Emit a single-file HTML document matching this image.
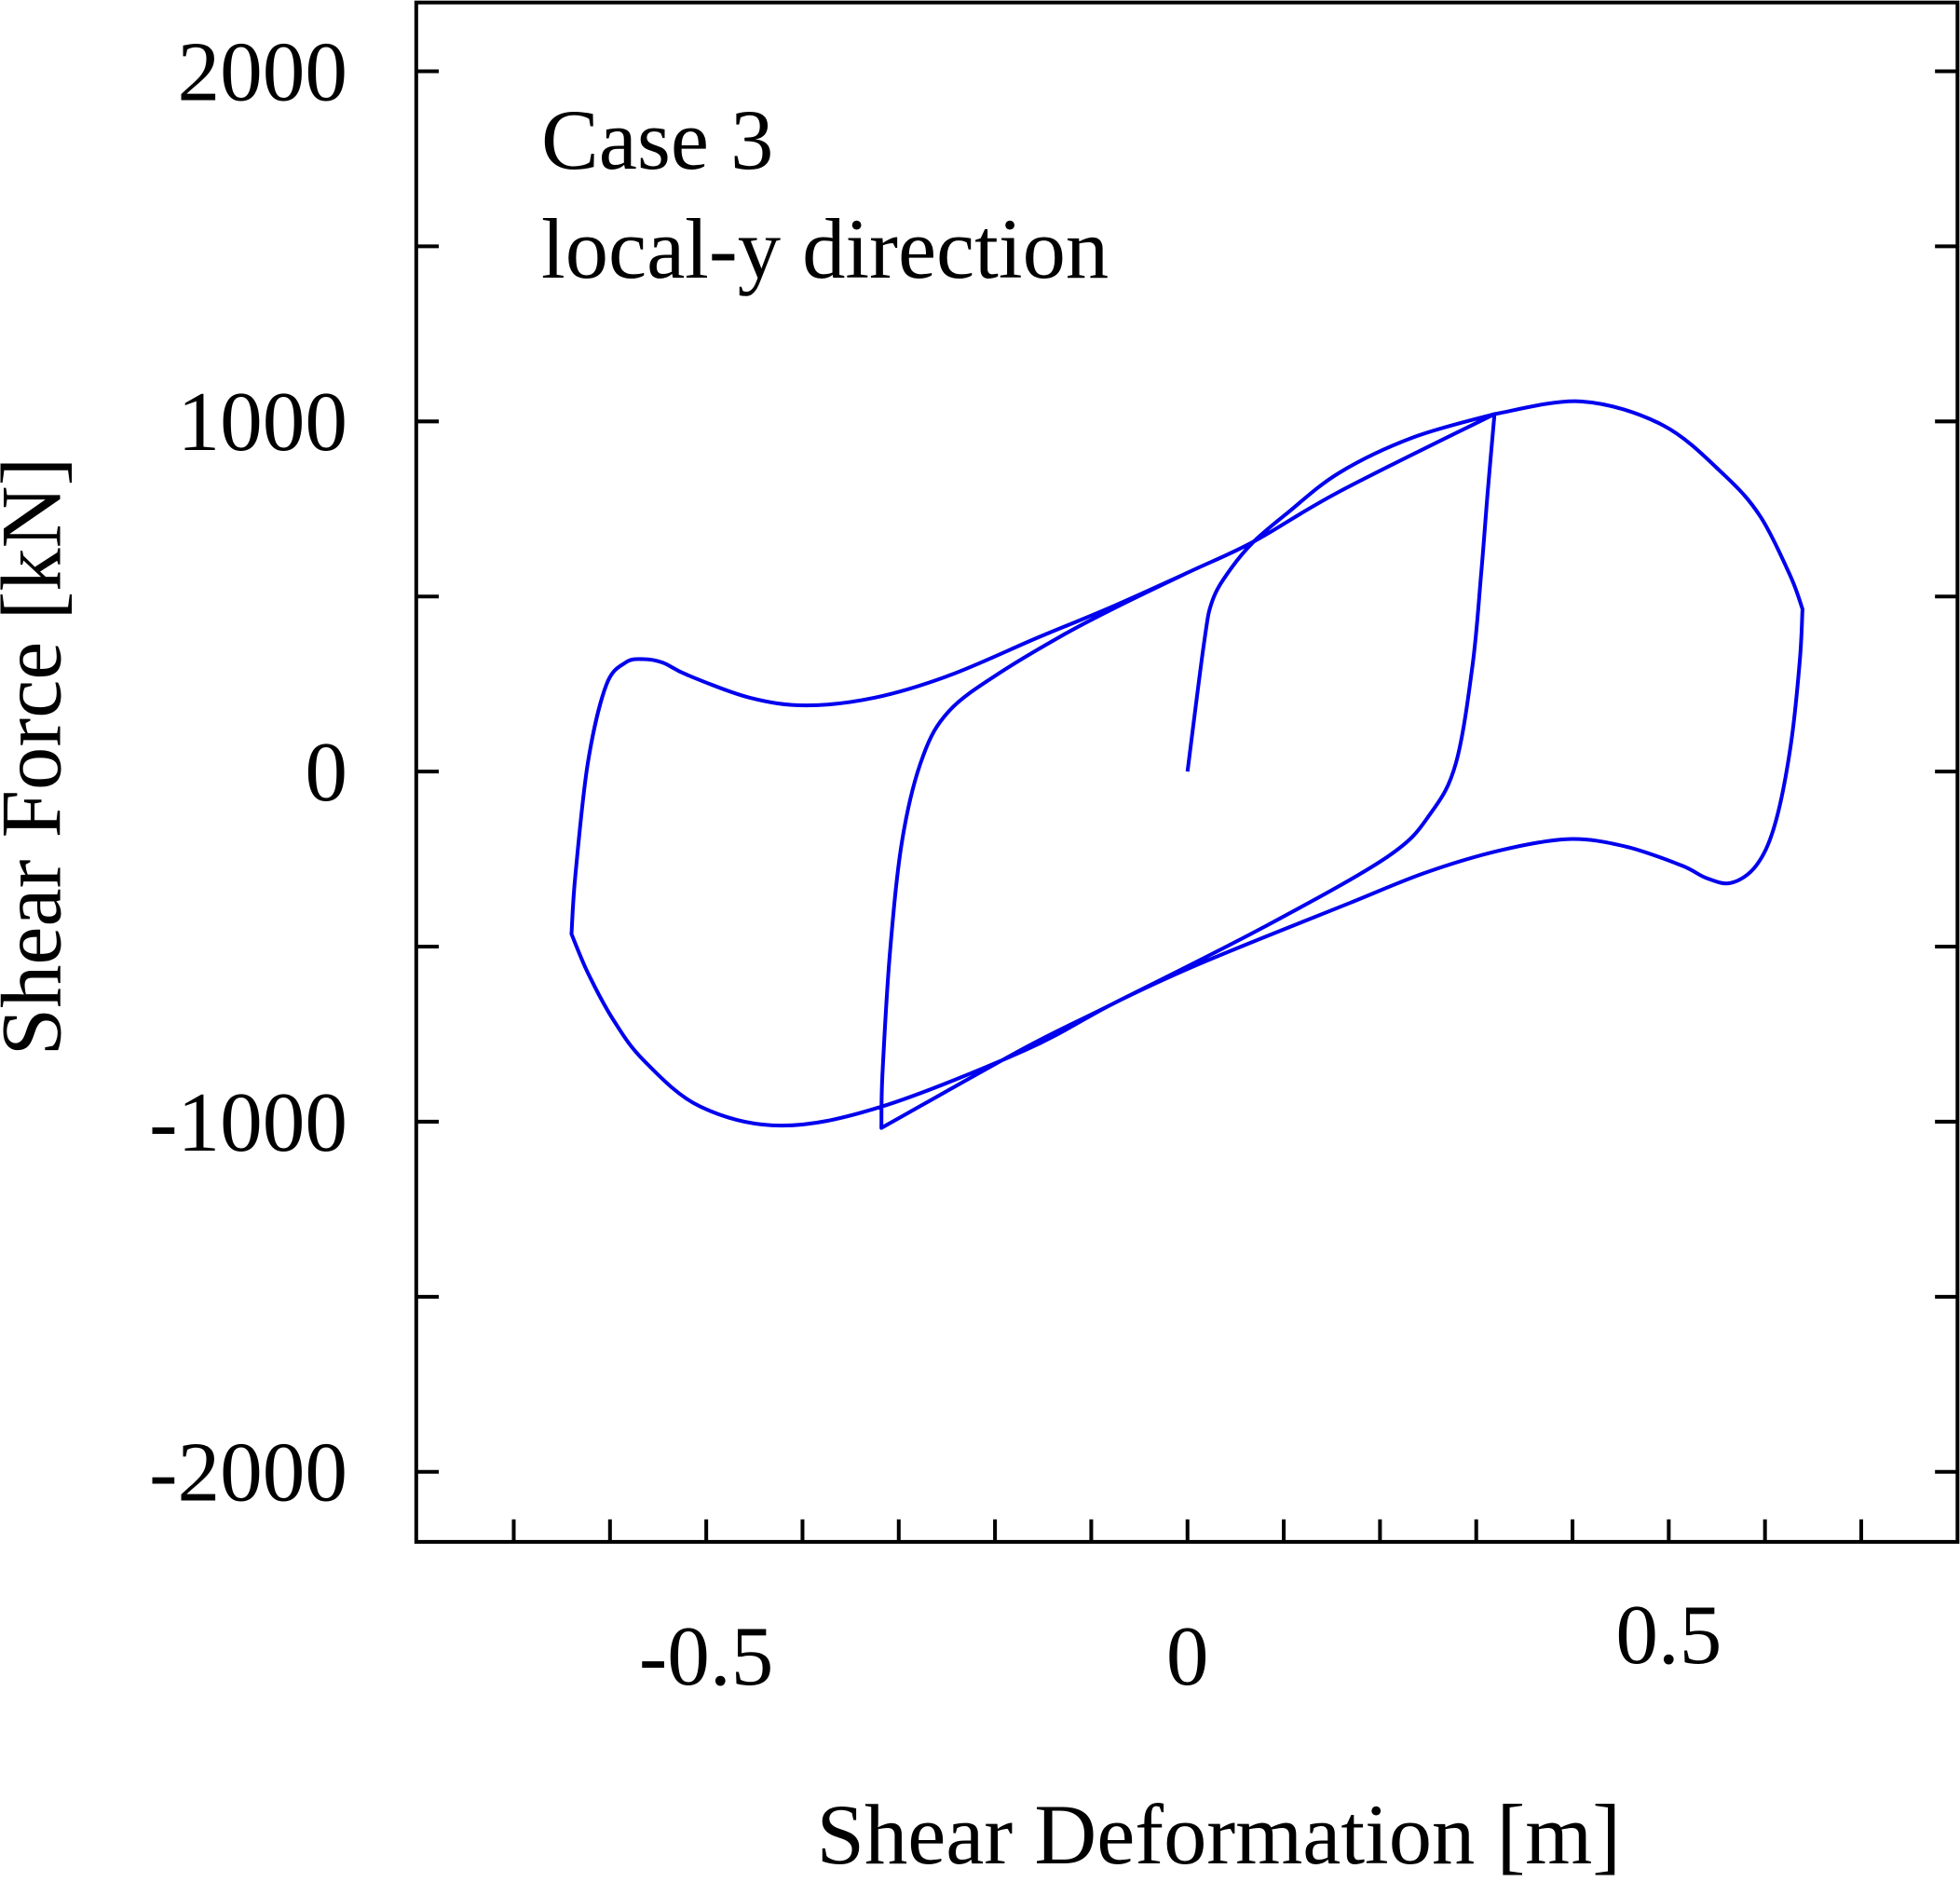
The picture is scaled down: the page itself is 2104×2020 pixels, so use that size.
<!DOCTYPE html>
<html><head><meta charset="utf-8"><style>
html,body{margin:0;padding:0;background:#fff;}
svg{display:block;}
text{font-family:"Liberation Serif",serif;fill:#000;}
</style></head><body>
<svg id="chart" width="2104" height="2020" viewBox="0 0 1568 1505" preserveAspectRatio="none" xmlns="http://www.w3.org/2000/svg">
<rect x="333" y="2" width="1233" height="1231" fill="none" stroke="#000" stroke-width="3"/>
<g id="ticks"></g>
<g id="labels"></g>
<path id="curve" fill="none" stroke="#0000ee" stroke-width="3" stroke-linejoin="round"/>
<text x="433" y="135" font-size="69">Case 3</text>
<text x="433" y="222" font-size="69">local-y direction</text>
<text x="975" y="1490" font-size="69" text-anchor="middle">Shear Deformation [m]</text>
<text transform="translate(48,605) rotate(-90)" font-size="69" text-anchor="middle">Shear Force [kN]</text>
</svg>
<script>
const xTickValues=[-0.7,-0.6,-0.5,-0.4,-0.3,-0.2,-0.1,0,0.1,0.2,0.3,0.4,0.5,0.6,0.7];
const xLabelValues=[-0.5,0,0.5];
const xLabelTexts=["-0.5","0","0.5"];
const yTickValues=[-2000,-1500,-1000,-500,0,500,1000,1500,2000];
const yLabelValues=[-2000,-1000,0,1000,2000];
const yLabelTexts=["-2000","-1000","0","1000","2000"];
const deformation=[0,0.017,0.026,0.045,0.069,0.104,0.158,0.234,0.319,0.312,0.305,0.296,0.279,0.253,0.208,0.078,-0.078,-0.169,-0.318,-0.317,-0.309,-0.296,-0.275,-0.247,-0.195,-0.130,-0.078,0,0.069,0.158,0.319,0.409,0.494,0.558,0.595,0.626,0.639,0.636,0.626,0.610,0.591,0.565,0.539,0.513,0.455,0.396,0.325,0.247,0.169,0.078,0,-0.078,-0.169,-0.318,-0.422,-0.506,-0.565,-0.597,-0.623,-0.640,-0.636,-0.623,-0.604,-0.584,-0.565,-0.545,-0.519,-0.455,-0.396,-0.325,-0.247,-0.156,-0.078,0];
const force=[0,364,489,579,657,739,854,954,1021,800,560,300,25,-118,-243,-446,-664,-789,-1018,-868,-511,-189,43,175,282,389,464,568,657,800,1021,1057,989,846,729,561,464,311,61,-154,-268,-318,-304,-268,-214,-193,-225,-289,-375,-475,-564,-664,-796,-957,-1011,-957,-825,-707,-575,-464,-296,25,246,311,321,311,275,211,189,211,275,382,471,568];
const X=v=>950+v*770;
const Y=v=>617-v*0.28;
const NS="http://www.w3.org/2000/svg";
const tk=document.getElementById('ticks'),lb=document.getElementById('labels');
function line(x1,y1,x2,y2,name){const l=document.createElementNS(NS,'line');
l.setAttribute('x1',x1);l.setAttribute('y1',y1);l.setAttribute('x2',x2);l.setAttribute('y2',y2);
l.setAttribute('stroke','#000');l.setAttribute('stroke-width','3');


tk.appendChild(l);}
xTickValues.forEach(v=>{line(X(v),1233,X(v),1215,'x-tick');});
yTickValues.forEach(v=>{line(333,Y(v),351,Y(v),'y-tick-left');line(1566,Y(v),1548,Y(v),'y-tick-right');});
xLabelValues.forEach((v,i)=>{const t=document.createElementNS(NS,'text');
t.setAttribute('x',X(v));t.setAttribute('y',v>0?1330:1347);t.setAttribute('font-size','68');t.setAttribute('text-anchor','middle');
t.textContent=xLabelTexts[i];


lb.appendChild(t);});
yLabelValues.forEach((v,i)=>{const t=document.createElementNS(NS,'text');
t.setAttribute('x',278);t.setAttribute('y',Y(v)+23);t.setAttribute('font-size','68');t.setAttribute('text-anchor','end');
t.textContent=yLabelTexts[i];


lb.appendChild(t);});
const P=deformation.map((v,i)=>[X(v),Y(force[i])]);
const sharp=new Set([8,18,30,36,59]);
let d='M'+P[0][0].toFixed(1)+','+P[0][1].toFixed(1);
for(let i=0;i<P.length-1;i++){
  const p0=(i===0||sharp.has(i))?P[i]:P[i-1], p1=P[i], p2=P[i+1], p3=(i+2>=P.length||sharp.has(i+1))?P[i+1]:P[i+2];
  const t=0.5/3;
  const c1=[p1[0]+(p2[0]-p0[0])*t,p1[1]+(p2[1]-p0[1])*t];
  const c2=[p2[0]-(p3[0]-p1[0])*t,p2[1]-(p3[1]-p1[1])*t];
  d+='C'+c1[0].toFixed(1)+','+c1[1].toFixed(1)+' '+c2[0].toFixed(1)+','+c2[1].toFixed(1)+' '+p2[0].toFixed(1)+','+p2[1].toFixed(1);
}
document.getElementById('curve').setAttribute('d',d);
</script>
</body></html>
